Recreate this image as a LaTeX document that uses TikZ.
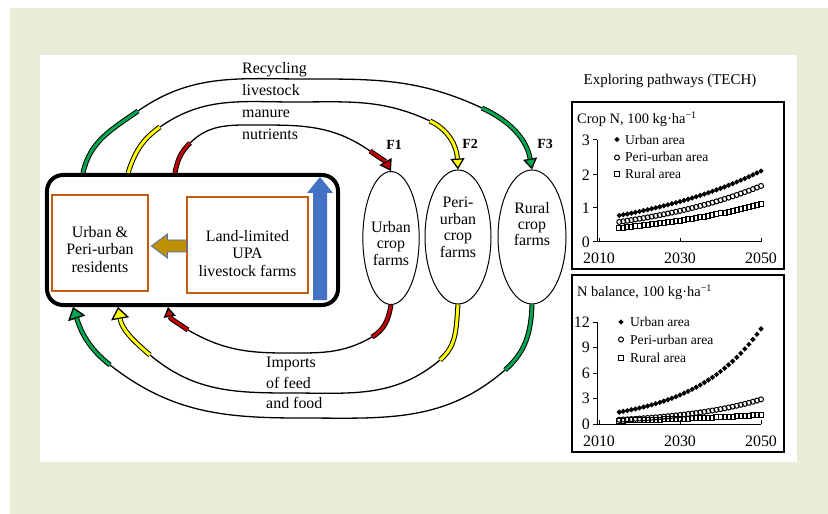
\documentclass[tikz,border=0pt]{standalone}
\usepackage{fontspec}
\setmainfont{Liberation Serif}
\usetikzlibrary{arrows.meta,positioning,shapes.geometric}

\begin{document}
\begin{tikzpicture}[x=1bp,y=1bp,
  every node/.style={font=\fontsize{16}{17.5}\selectfont},
  hub/.style={draw=black,line width=4bp,rounded corners=16bp,minimum width=291bp,minimum height=130bp},
  actor/.style={draw=kOrange,line width=2.8bp,align=center,inner sep=0pt,text depth=12bp},
  farm/.style={draw=black,line width=1bp,ellipse,align=center,inner sep=0pt,text depth=12bp,font=\fontsize{16}{16.5}\selectfont},
  flabel/.style={font=\fontsize{14}{14}\selectfont\bfseries,inner sep=0pt},
  flowline/.style={draw=black,line width=1.3bp},
  band/.style={draw=black,line width=1bp,double=#1,double distance=3bp},
  flowend/.style={-{Triangle[width=14bp,length=11bp,fill=#1]}},
  importend/.style={-{Triangle[width=18bp,length=12bp,fill=#1]}},
  flowtext/.style={anchor=base west,inner sep=0pt},
  axistext/.style={font=\fontsize{16}{16}\selectfont,inner sep=0pt},
  legendtext/.style={font=\fontsize{13.6}{14}\selectfont,anchor=base west,inner sep=0pt},
  charttitle/.style={font=\fontsize{14.5}{15}\selectfont,anchor=base west,inner sep=0pt}
]
  \definecolor{kBeige}{RGB}{233,236,214}
  \definecolor{kOrange}{RGB}{197,90,17}
  \definecolor{kGold}{RGB}{191,144,0}
  \definecolor{kBlue}{RGB}{68,114,196}
  \definecolor{kGreen}{RGB}{0,166,80}
  \definecolor{kYellow}{RGB}{255,255,0}
  \definecolor{kRed}{RGB}{192,0,0}

  \useasboundingbox (0,0) rectangle (828,-514);

  % background
  \fill[white] (0,0) rectangle (828,-514);
  \fill[kBeige] (10,-8) rectangle (828,-514);
  \fill[white] (40,-55) rectangle (797,-462);

  % city box
  \node[hub] (hub) at (192.5,-240) {};
  \node[actor,text height=70bp,minimum width=96bp,minimum height=96bp] (residents) at (100,-243)
    {Urban \&\\Peri-urban\\residents};
  \node[actor,text height=74bp,minimum width=121bp,minimum height=96bp] (livestock) at (247.5,-245)
    {Land-limited\\UPA\\livestock farms};

  %% arrows inside
  \filldraw[fill=kGold,draw=kBlue,line width=0.8bp] (residents.east) ++(2,-3)
    -- ++(16,12) -- ++(0,-6) -- ++(19,0) -- ++(0,-12) -- ++(-19,0) -- ++(0,-6) -- cycle;
  \fill[kBlue] (313,-300) -- (313,-193) -- (307,-193) -- (320,-177)
    -- (333,-193) -- (327,-193) -- (327,-300) -- cycle;

  % crop farms
  \node[farm,text height=66bp,minimum width=51bp,minimum height=133bp] (urbanfarm) at (391,-238) {Urban\\crop\\farms};
  \node[farm,text height=52.5bp,minimum width=66bp,minimum height=134bp] (perifarm) at (458,-237) {Peri-\\urban\\crop\\farms};
  \node[farm,text height=30bp,minimum width=68bp,minimum height=134bp] (ruralfarm) at (532,-237) {Rural\\crop\\farms};

  \node[flabel,above=21bp of urbanfarm.north,xshift=3bp] (f1) {F1};
  \node[flabel,above=21bp of perifarm.north,xshift=12bp] (f2) {F2};
  \node[flabel,above=21bp of ruralfarm.north,xshift=13bp] (f3) {F3};

  % points on the city box
  \coordinate (recG) at (83,-173);
  \coordinate (recY) at (128,-173);
  \coordinate (recR) at (175,-173);
  \coordinate (impG) at (73,-307);
  \coordinate (impY) at (118,-307);
  \coordinate (impR) at (168,-307);

  % recycling flows
  \coordinate (gA) at (138,-111);
  \coordinate (gP) at (305,-79);
  \coordinate (gB) at (482,-108);
  \draw[flowline,flowend=kGreen] (recG) to[out=78,in=215] (gA) to[out=35,in=180] (gP)
    to[out=0,in=155] (gB) to[out=-25,in=100] (ruralfarm.north);
  \draw[band=kGreen] (recG) to[out=78,in=215] (gA);
  \draw[band=kGreen,shorten >=11bp] (gB) to[out=-25,in=100] (ruralfarm.north);

  \coordinate (yA) at (160,-127);
  \coordinate (yP) at (295,-102);
  \coordinate (yB) at (430,-121);
  \draw[flowline,flowend=kYellow] (recY) to[out=72,in=215] (yA) to[out=35,in=180] (yP)
    to[out=0,in=155] (yB) to[out=-25,in=93] (perifarm.north);
  \draw[band=kYellow] (recY) to[out=72,in=215] (yA);
  \draw[band=kYellow,shorten >=11bp] (yB) to[out=-25,in=93] (perifarm.north);

  \coordinate (rA) at (190,-143);
  \coordinate (rP) at (258,-125);
  \coordinate (rB) at (370,-151);
  \draw[flowline,flowend=kRed] (recR) to[out=80,in=225] (rA) to[out=45,in=180] (rP)
    to[out=0,in=145] (rB) to[out=-35,in=120] (urbanfarm.north);
  \draw[band=kRed] (recR) to[out=80,in=225] (rA);
  \draw[band=kRed,shorten >=11bp] (rB) to[out=-35,in=120] (urbanfarm.north);

  % import flows
  \coordinate (gC) at (505,-370);
  \coordinate (gT) at (300,-418);
  \coordinate (gD) at (110,-365);
  \draw[flowline,importend=kGreen] (ruralfarm.south) to[out=-92,in=41] (gC) to[out=221,in=0] (gT)
    to[out=180,in=-38] (gD) to[out=142,in=-72] (impG);
  \draw[band=kGreen] (ruralfarm.south) to[out=-92,in=41] (gC);
  \draw[band=kGreen,shorten >=12bp] (gD) to[out=142,in=-72] (impG);

  \coordinate (yC) at (440,-360);
  \coordinate (yT) at (290,-393);
  \coordinate (yD) at (150,-355);
  \draw[flowline,importend=kYellow] (perifarm.south) to[out=-95,in=40] (yC) to[out=220,in=0] (yT)
    to[out=180,in=-40] (yD) to[out=140,in=-80] (impY);
  \draw[band=kYellow] (perifarm.south) to[out=-95,in=40] (yC);
  \draw[band=kYellow,shorten >=12bp] (yD) to[out=140,in=-80] (impY);

  \coordinate (rC) at (372,-337);
  \coordinate (rT) at (285,-353);
  \coordinate (rD) at (188,-330);
  \draw[flowline,-{Triangle[width=12bp,length=10bp,fill=kRed]}] (urbanfarm.south) to[out=-100,in=30] (rC)
    to[out=210,in=0] (rT) to[out=180,in=-30] (rD) to[out=145,in=-80] (impR);
  \draw[band=kRed] (urbanfarm.south) to[out=-100,in=30] (rC);
  \draw[band=kRed,shorten >=10bp] (rD) to[out=145,in=-80] (impR);

  % flow labels
  \foreach \txt/\ypos in {Recycling/74,livestock/96,manure/118,nutrients/140}
    \node[flowtext] (rec\txt) at (242,-\ypos) {\txt};
  \foreach \txt/\ypos in {Imports/367,of feed/388,and food/408}
    \node[flowtext] (imp\ypos) at (266,-\ypos) {\txt};

  % pathways panel
  \node[font=\fontsize{15}{15}\selectfont,anchor=base,inner sep=0pt] (pathtitle) at (670,-85)
    {Exploring pathways (TECH)};

  %% crop N
  \draw[line width=1.2bp] (572,-102) rectangle (784,-269);
  \node[charttitle] (croptitle) at (577,-124) {Crop N, 100 kg·ha\textsuperscript{−1}};
  \draw[line width=1bp] (597,-140) -- (597,-242) -- (761,-242);
  \foreach \v/\ypos in {0/242,1/208,2/175,3/140}
  {
    \draw[line width=1bp] (593,-\ypos) -- (597,-\ypos);
    \node[axistext,anchor=east] (cropy\v) at (590,-\ypos) {\v};
  }
  \foreach \yr/\xpos in {2010/599,2030/680,2050/761}
  {
    \draw[line width=1bp] (\xpos,-242) -- (\xpos,-238);
    \node[axistext] (cropx\yr) at (\xpos,-258) {\yr};
  }
  \foreach \t in {2015,...,2050}
  {
    \pgfmathsetmacro{\px}{599+4.05*(\t-2010)}
    \pgfmathsetmacro{\pu}{-242+34*0.78*exp(0.02816*(\t-2015))}
    \pgfmathsetmacro{\pp}{-242+34*0.59*exp(0.02938*(\t-2015))}
    \pgfmathsetmacro{\pr}{-242+34*0.41*exp(0.0287*(\t-2015))}
    \fill (\px,\pu) +(-2.7,0) -- +(0,2.7) -- +(2.7,0) -- +(0,-2.7) -- cycle;
    \draw[line width=1bp] (\px,\pp) circle (2.5bp);
    \draw[line width=1bp] (\px-2.5,\pr-2.5) rectangle ++(5,5);
  }
  %% legend
  \fill (617,-139.5) +(-2.7,0) -- +(0,2.7) -- +(2.7,0) -- +(0,-2.7) -- cycle;
  \draw[line width=1bp] (617,-157.5) circle (2.5bp);
  \draw[line width=1bp] (614.5,-177) rectangle ++(5,5);
  \node[legendtext] (cropleg1) at (625,-145) {Urban area};
  \node[legendtext] (cropleg2) at (625,-162) {Peri-urban area};
  \node[legendtext] (cropleg3) at (625,-179) {Rural area};

  %% N balance
  \draw[line width=1.2bp] (572,-275) rectangle (784,-452);
  \node[charttitle] (baltitle) at (577,-297) {N balance, 100 kg·ha\textsuperscript{−1}};
  \draw[line width=1bp] (597,-322) -- (597,-424) -- (761,-424);
  \foreach \v/\ypos in {0/424,3/398.5,6/373,9/347.5,12/322}
  {
    \draw[line width=1bp] (593,-\ypos) -- (597,-\ypos);
    \node[axistext,anchor=east] (baly\v) at (590,-\ypos) {\v};
  }
  \foreach \yr/\xpos in {2010/599,2030/680,2050/761}
  {
    \draw[line width=1bp] (\xpos,-424) -- (\xpos,-420);
    \node[axistext] (balx\yr) at (\xpos,-441) {\yr};
  }
  \foreach \t in {2015,...,2050}
  {
    \pgfmathsetmacro{\px}{599+4.05*(\t-2010)}
    \pgfmathsetmacro{\pu}{-424+8.5*1.4*exp(0.0594*(\t-2015))}
    \pgfmathsetmacro{\pp}{-424+8.5*0.5*exp(0.0502*(\t-2015))}
    \pgfmathsetmacro{\pr}{-424+8.5*0.4*exp(0.02785*(\t-2015))}
    \fill (\px,\pu) +(-2.7,0) -- +(0,2.7) -- +(2.7,0) -- +(0,-2.7) -- cycle;
    \draw[line width=1bp] (\px,\pp) circle (2.5bp);
    \draw[line width=1bp] (\px-2.5,\pr-2.5) rectangle ++(5,5);
  }
  %% legend
  \fill (621,-322) +(-2.7,0) -- +(0,2.7) -- +(2.7,0) -- +(0,-2.7) -- cycle;
  \draw[line width=1bp] (621,-339.5) circle (2.5bp);
  \draw[line width=1bp] (618.5,-360) rectangle ++(5,5);
  \node[legendtext] (balleg1) at (630,-327) {Urban area};
  \node[legendtext] (balleg2) at (630,-344) {Peri-urban area};
  \node[legendtext] (balleg3) at (630,-362) {Rural area};

\end{tikzpicture}
\end{document}
